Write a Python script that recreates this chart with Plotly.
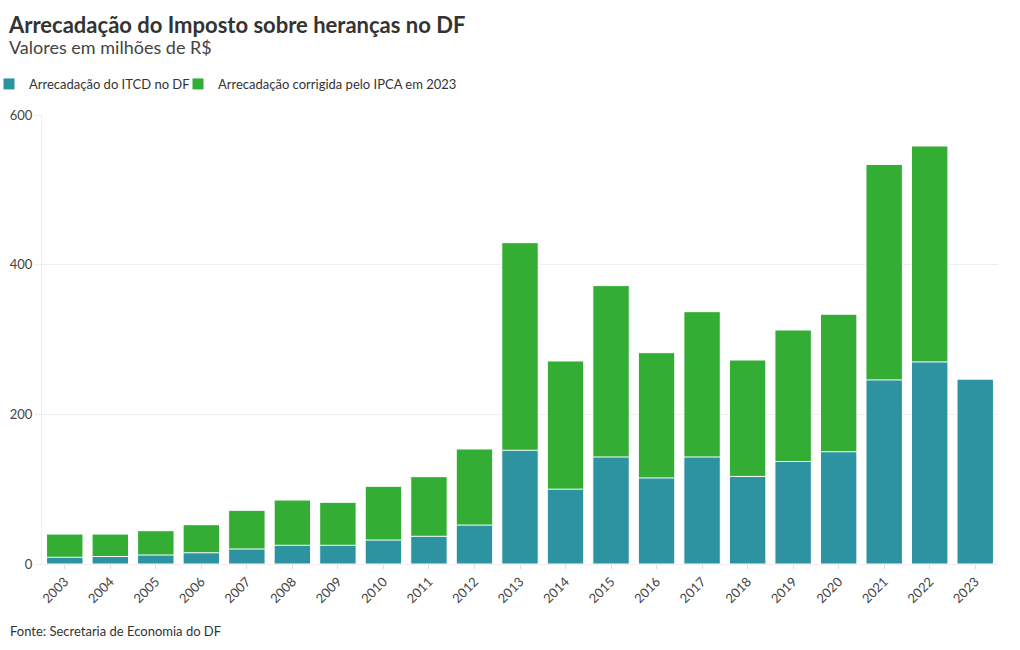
import plotly.graph_objects as go

anos = [str(a) for a in range(2003, 2024)]
itcd = [9, 10, 12, 15, 20, 25, 25, 32, 37, 52, 152, 100, 143, 115, 143, 117, 137, 150, 246, 270, 247]
corrigida = [40, 40, 44.5, 52.5, 71.7, 85.5, 82.4, 103.8, 116.7, 153.7, 429.4, 271.3, 372, 282.4,
             337.2, 272.6, 312.7, 333.7, 534, 558.6, 247]
y_ticks = [0, 200, 400, 600]

FONT = "Source Sans Pro, Lato, Noto Sans, sans-serif"
TEAL = "#2E93A1"
GREEN = "#33AD33"

L, R, T, B = 42, 22, 115, 86
W, H = 1020, 650
pw, ph = W - L - R, H - T - B

def px(x):
    return (x - L) / pw

def py(y):
    return (H - B - y) / ph

fig = go.Figure()
fig.add_trace(go.Bar(x=anos, y=corrigida, name="Arrecadação corrigida pelo IPCA em 2023",
                     legend="legend2", showlegend=True,
                     marker=dict(color=GREEN, line=dict(color="white", width=1))))
fig.add_trace(go.Bar(x=anos, y=itcd, name="Arrecadação do ITCD no DF",
                     legend="legend", showlegend=True,
                     marker=dict(color=TEAL, line=dict(color="white", width=1))))

leg_common = dict(orientation="h", xanchor="left", yref="paper", y=py(84), yanchor="middle",
                  font=dict(size=13, color="#333333"), itemwidth=30,
                  bgcolor="rgba(0,0,0,0)", visible=True)

fig.update_layout(
    width=W, height=H,
    showlegend=True,
    margin=dict(l=L, r=R, t=T, b=B, autoexpand=False),
    barmode="overlay", bargap=0.2,
    plot_bgcolor="white", paper_bgcolor="white",
    font=dict(family=FONT, size=12, color="#333333"),
    title=dict(text="<b>Arrecadação do Imposto sobre heranças no DF</b>",
               xref="container", x=9 / W, xanchor="left",
               yref="container", y=1 - 25 / H, yanchor="middle",
               font=dict(size=22, color="#333333", family=FONT)),
    legend=dict(xref="paper", x=px(-11), **leg_common),
    legend2=dict(xref="paper", x=px(178), **leg_common),
    xaxis=dict(type="category", tickangle=-45, showgrid=False,
               ticks="outside", ticklen=4, tickcolor="#dddddd",
               tickfont=dict(size=13, color="#444444"),
               showline=True, linecolor="#eeeeee"),
    yaxis=dict(range=[0, 600], tickvals=y_ticks, showgrid=True, gridcolor="#eeeeee",
               zeroline=False, showline=True, linecolor="#eeeeee",
               ticks="outside", ticklen=6, tickcolor="#eeeeee",
               tickfont=dict(size=13, color="#444444")),
    annotations=[
        dict(text="Valores em milhões de R$", xref="paper", yref="paper",
             x=px(7), y=py(47), xanchor="left", yanchor="middle", showarrow=False,
             font=dict(size=18, color="#444444")),
        dict(text="Fonte: Secretaria de Economia do DF", xref="paper", yref="paper",
             x=px(8), y=py(631), xanchor="left", yanchor="middle", showarrow=False,
             font=dict(size=13, color="#333333")),
    ],
)

fig.write_html("out.html")
